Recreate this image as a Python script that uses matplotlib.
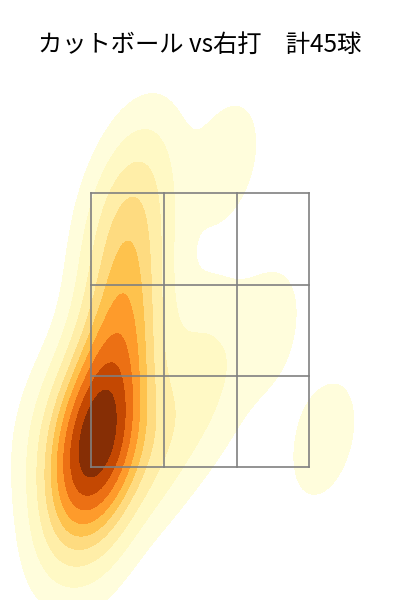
import matplotlib
matplotlib.use("Agg")
import matplotlib.pyplot as plt
import seaborn as sns

plt.rcParams['font.family'] = ['Noto Sans CJK JP', 'DejaVu Sans']

title = "カットボール vs右打　計45球"

# pitch locations, strike-zone cell units (zone = 0..3 x 0..3)
px = [0.00, 0.10, 0.15, -0.10, 0.25, 0.05, -0.15, 0.30, 0.00, 0.10, -0.05, 0.20, 0.08, -0.20, 0.30,
      -0.20, 0.00, -0.30, 0.20, -0.10, 0.40,
      0.30, 0.40, 0.20, 0.50, 0.30, 0.10, 0.60, 0.50, 0.40,
      0.40, 0.60, 0.50, 0.35, 0.70, 0.50,
      1.00, 1.60, 0.90, 1.50,
      2.40, 1.85, 3.20, -0.55, 0.10]
pz = [0.10, 0.25, 0.45, 0.50, 0.20, 0.65, 0.30, 0.50, -0.05, 0.75, 0.20, 0.60, 0.38, 0.05, 0.30,
      -0.30, -0.25, -0.60, -0.15, -0.05, -0.05,
      1.00, 1.30, 1.20, 1.60, 1.50, 1.00, 1.10, 2.00, 1.80,
      2.30, 2.60, 3.00, 2.70, 3.30, 2.20,
      0.40, 0.70, 0.10, 1.35,
      1.50, 3.35, 0.30, 0.50, -0.75]

fig = plt.figure(figsize=(4, 6), dpi=100)
ax = fig.add_axes([0, 0, 1, 1])

sns.kdeplot(x=px, y=pz, fill=True, cmap="YlOrBr", levels=10, thresh=0.05, ax=ax)

# strike zone 3x3
for i in range(4):
    ax.plot([i, i], [0, 3], color="#808080", lw=1.2)
    ax.plot([0, 3], [i, i], color="#808080", lw=1.2)

ax.set_xlim(-1.256, 4.246)
ax.set_ylim(-1.463, 5.123)
ax.axis("off")

fig.text(0.5, 1 - 45 / 600, title, ha="center", va="center", fontsize=17.5)

fig.savefig("out.png", dpi=100)
